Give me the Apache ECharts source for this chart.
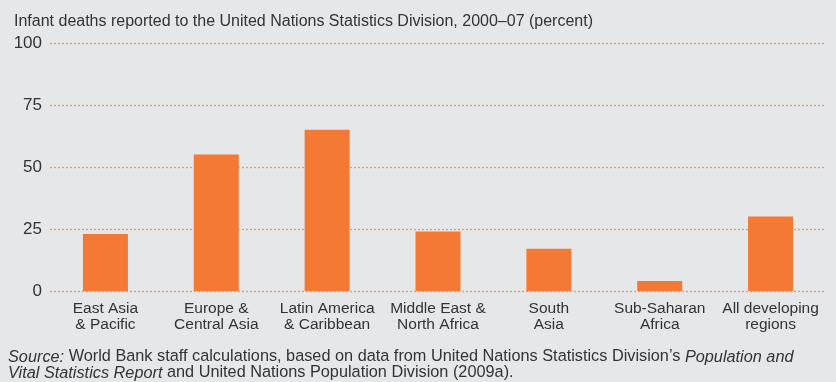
<!DOCTYPE html>
<html>
<head>
<meta charset="utf-8">
<script src="https://cdn.jsdelivr.net/npm/echarts@6/dist/echarts.min.js"></script>
<style>
  html, body { margin: 0; padding: 0; background: #e6e7e8; }
  #chart { width: 836px; height: 382px; }
</style>
</head>
<body>
<div id="chart"></div>
<script>
const regions = ['East Asia\n& Pacific', 'Europe &\nCentral Asia', 'Latin America\n& Caribbean',
  'Middle East &\nNorth Africa', 'South\nAsia', 'Sub-Saharan\nAfrica', 'All developing\nregions']
const reported = [23, 55, 65, 24, 17, 4, 30]
const yTicks = [0, 25, 50, 75, 100]

const font = '"Liberation Sans", Arial, sans-serif'
const chart = echarts.init(document.getElementById('chart'), null, { renderer: 'canvas' })

chart.setOption({
  backgroundColor: '#e6e7e8',
  animation: false,
  title: {
    text: 'Infant deaths reported to the United Nations Statistics Division, 2000–07 (percent)',
    left: 9,
    top: 9,
    textStyle: { fontFamily: font, fontSize: 16, fontWeight: 'normal', color: '#333' }
  },
  grid: { left: 50, right: 10, top: 43, bottom: 91 },
  xAxis: {
    type: 'category',
    data: regions,
    axisLine: { show: false },
    axisTick: { show: false },
    axisLabel: {
      interval: 0,
      margin: 10,
      fontFamily: font,
      fontSize: 15.5,
      lineHeight: 16,
      color: '#333'
    }
  },
  yAxis: {
    type: 'value',
    min: yTicks[0],
    max: yTicks[yTicks.length - 1],
    interval: 25,
    axisLine: { show: false },
    axisTick: { show: false },
    axisLabel: { margin: 8, fontFamily: font, fontSize: 17, color: '#333' },
    splitLine: { lineStyle: { type: [2, 2], color: '#f7955c', width: 1.3 } }
  },
  series: [{
    type: 'bar',
    data: reported,
    barWidth: 45,
    itemStyle: { color: '#f47935' }
  }],
  graphic: [{
    type: 'text',
    left: 8,
    top: 349,
    style: {
      text: '{i|Source:} World Bank staff calculations, based on data from United Nations Statistics Division’s {i|Population and}\n{i|Vital Statistics Report} and United Nations Population Division (2009a).',
      fontFamily: font,
      fontSize: 16.3,
      lineHeight: 16,
      fill: '#333',
      rich: {
        i: { fontFamily: font, fontSize: 16.3, fontStyle: 'italic', fill: '#333', lineHeight: 16 }
      }
    }
  }]
})
</script>
</body>
</html>
